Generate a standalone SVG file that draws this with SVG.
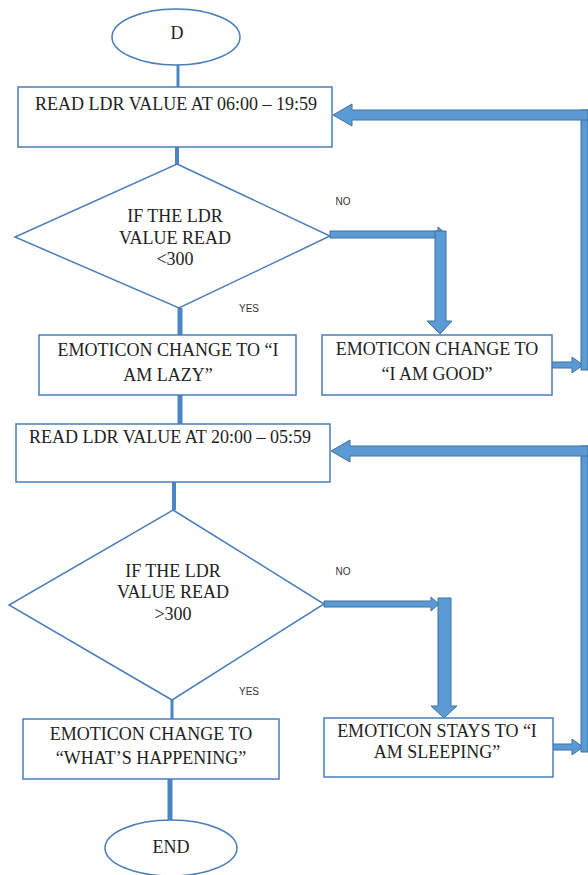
<svg xmlns="http://www.w3.org/2000/svg" width="588" height="875" viewBox="0 0 588 875">
<style>
.shape{fill:#fff;stroke:#4a7ebb;stroke-width:1.5}
.t{font-family:"Liberation Serif","Times New Roman","DejaVu Serif",serif;font-size:18px;fill:#222;text-anchor:middle}
.lbl{font-family:"Liberation Sans",Arial,sans-serif;font-size:10px;fill:#333;text-anchor:middle}
.ln{stroke:#4a86c5;fill:none}
.blk{fill:#5b9bd5;stroke:#41719c;stroke-width:1}
</style>
<rect width="588" height="875" fill="#fff"/>
<g id="connectors">
<line class="ln" x1="178" y1="65" x2="178" y2="87" stroke-width="3"/>
<line class="ln" x1="177" y1="147" x2="177" y2="164" stroke-width="4"/>
<line class="ln" x1="180" y1="308" x2="180" y2="335" stroke-width="5"/>
<line class="ln" x1="180" y1="395" x2="180" y2="424" stroke-width="5"/>
<line class="ln" x1="174" y1="482" x2="174" y2="510" stroke-width="4"/>
<line class="ln" x1="172" y1="700" x2="172" y2="719" stroke-width="3"/>
<line class="ln" x1="170" y1="779" x2="170" y2="820" stroke-width="5"/>
<polygon class="blk" points="330,231 438,231 438,227 446,234 438,241 438,238 330,238"/>
<polygon class="blk" points="435,231 446,231 446,321 452,321 440,334 427,321 435,321"/>
<polygon class="blk" points="552,362 572,362 572,357 583,365 572,373 572,368 552,368"/>
<polygon class="blk" points="581,110 588,110 588,370 581,370"/>
<polygon class="blk" points="588,110 588,120 352,120 352,126 333,115 352,104 352,110"/>
<polygon class="blk" points="324,601 431,601 431,597 439,604 431,611 431,607 324,607"/>
<polygon class="blk" points="438,598 451,598 451,706 457,706 444,718 431,706 438,706"/>
<polygon class="blk" points="553,744 572,744 572,739 583,747 572,755 572,750 553,750"/>
<polygon class="blk" points="581,446 588,446 588,752 581,752"/>
<polygon class="blk" points="588,446 588,456 350,456 350,462 331,451 350,440 350,446"/>
</g>
<g id="start">
<ellipse class="shape" cx="176" cy="37" rx="64" ry="28"/>
<text class="t" x="177" y="39">D</text>
</g>
<g id="read1">
<rect class="shape" x="18" y="87" width="314" height="60"/>
<text class="t" x="176" y="110">READ LDR VALUE AT 06:00 – 19:59</text>
</g>
<g id="dec1">
<polygon class="shape" points="177,164 330,236 179,308 15,237"/>
<text class="t" x="175" y="222">IF THE LDR</text>
<text class="t" x="175" y="244">VALUE READ</text>
<text class="t" x="175" y="265">&lt;300</text>
</g>
<text class="lbl" x="343" y="205">NO</text>
<text class="lbl" x="249" y="312">YES</text>
<g id="lazy">
<rect class="shape" x="39" y="335" width="257" height="60"/>
<text class="t" x="168" y="356">EMOTICON CHANGE TO “I</text>
<text class="t" x="168" y="381">AM LAZY”</text>
</g>
<g id="good">
<rect class="shape" x="322" y="335" width="230" height="60"/>
<text class="t" x="437" y="355">EMOTICON CHANGE TO</text>
<text class="t" x="437" y="380">“I AM GOOD”</text>
</g>
<g id="read2">
<rect class="shape" x="16" y="424" width="314" height="58"/>
<text class="t" x="170" y="443">READ LDR VALUE AT 20:00 – 05:59</text>
</g>
<g id="dec2">
<polygon class="shape" points="173,510 324,604 172,700 9,605"/>
<text class="t" x="173" y="577">IF THE LDR</text>
<text class="t" x="173" y="598">VALUE READ</text>
<text class="t" x="173" y="620">&gt;300</text>
</g>
<text class="lbl" x="343" y="575">NO</text>
<text class="lbl" x="249" y="695">YES</text>
<g id="happening">
<rect class="shape" x="23" y="719" width="256" height="60"/>
<text class="t" x="151" y="740">EMOTICON CHANGE TO</text>
<text class="t" x="151" y="764">“WHAT’S HAPPENING”</text>
</g>
<g id="sleeping">
<rect class="shape" x="324" y="718" width="229" height="59"/>
<text class="t" x="437" y="737">EMOTICON STAYS TO “I</text>
<text class="t" x="437" y="758">AM SLEEPING”</text>
</g>
<g id="end">
<ellipse class="shape" cx="171" cy="848" rx="66" ry="28"/>
<text class="t" x="171" y="853">END</text>
</g>
</svg>
